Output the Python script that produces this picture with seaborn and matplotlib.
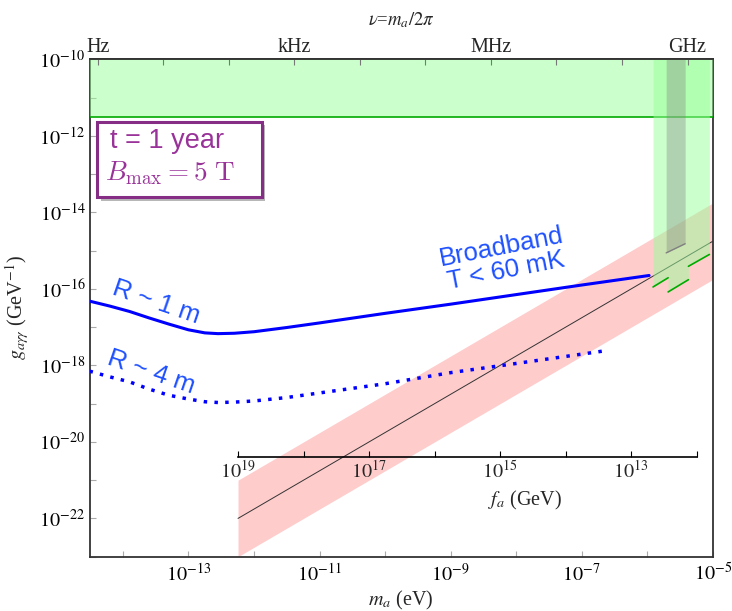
import numpy as np
import pandas as pd
import seaborn as sns
import matplotlib
matplotlib.use("Agg")
import matplotlib.pyplot as plt
import matplotlib.ticker as mticker
import matplotlib.patheffects as pe
from matplotlib.patches import FancyBboxPatch

# values, as log10 of m_a (eV) and g_agg (GeV^-1)
r1_logm = [-14.51, -14.2, -13.9, -13.6, -13.3, -13.0, -12.75, -12.55, -12.3, -12.0,
           -11.5, -11.0, -10.0, -9.0, -8.0, -7.0, -5.97]
r1_logg = [-16.32, -16.45, -16.59, -16.76, -16.92, -17.07, -17.15, -17.17, -17.16, -17.12,
           -17.01, -16.89, -16.64, -16.40, -16.15, -15.90, -15.65]

r4_logm = [-14.51, -14.2, -13.9, -13.6, -13.3, -13.0, -12.75, -12.55, -12.3, -12.0,
           -11.5, -11.0, -10.0, -9.0, -8.0, -6.69]
r4_logg = [-18.15, -18.30, -18.43, -18.62, -18.78, -18.88, -18.95, -18.97, -18.96, -18.93,
           -18.84, -18.72, -18.48, -18.19, -17.95, -17.63]

# QCD axion line and band
qcd_m = [5.7e-13, 1e-5]
qcd_g = [1e-22, 1.75e-15]
qcd_lo = [1e-23, 1.75e-16]
qcd_hi = [1e-21, 1.75e-14]

# upper exclusion (green)
top_excl_g = 3.1e-12

# haloscope exclusion staircase (green) and grey region
halo_logm = [-5.91, -5.68, -5.68, -5.37, -5.37, -5.05]
halo_logg = [-15.95, -15.71, -16.08, -15.76, -15.41, -15.10]
grey_logm = [-5.71, -5.42]
grey_logg = [-15.06, -14.82]

freq_ticks = [1, 1e3, 1e6, 1e9]
freq_labels = ["Hz", "kHz", "MHz", "GHz"]
fa_ticks = [1e19, 1e18, 1e17, 1e16, 1e15, 1e14, 1e13, 1e12]

H_EV = 4.1357e-15      # eV s
FA_CONST = 5.7e6       # f_a [GeV] = FA_CONST / m_a [eV]

BLUE = "#0000ff"
BLUE_TXT = "#1e50ff"
PURPLE = "#993399"
GREEN_LINE = "#00aa00"
GREEN_FILL = (0.6, 1.0, 0.6)

sns.set_theme(style="ticks")
plt.rcParams["font.family"] = ["Liberation Serif", "DejaVu Serif"]
plt.rcParams["mathtext.fontset"] = "stix"
plt.rcParams["axes.edgecolor"] = "#333333"
plt.rcParams["axes.linewidth"] = 1.3

fig = plt.figure(figsize=(7.32, 6.11), dpi=100)
ax = fig.add_axes([0.1223, 0.0889, 0.8513, 0.8140])
ax.set_xscale("log")
ax.set_yscale("log")
ax.set_xlim(10 ** -14.51, 1e-5)
ax.set_ylim(1e-23, 1e-10)

# QCD band
ax.fill_between(qcd_m, qcd_lo, qcd_hi, color="#ffcccc", lw=0, zorder=1)
ax.plot(qcd_m, qcd_g, color="#333333", lw=0.7, zorder=2)

# upper green exclusion
ax.axhspan(top_excl_g, 1e-10, color=GREEN_FILL, alpha=0.5, lw=0, zorder=3)
ax.axhline(top_excl_g, color=GREEN_LINE, lw=1.2, zorder=3)

# haloscope region
hm = np.power(10.0, halo_logm)
hg = np.power(10.0, halo_logg)
ax.fill_between(hm, hg, 1e-10, color=GREEN_FILL, alpha=0.5, lw=0, zorder=3)
for i in (0, 2, 4):
    ax.plot(hm[i:i + 2], hg[i:i + 2], color=GREEN_LINE, lw=1.2, zorder=4)
gm = np.power(10.0, grey_logm)
gg = np.power(10.0, grey_logg)
ax.fill_between(gm, gg, 1e-10, color="0.5", alpha=0.35, lw=0, zorder=4)
ax.plot(gm, gg, color="0.5", lw=1.0, zorder=4)

# broadband sensitivity curves
r1 = pd.DataFrame({"m": np.power(10.0, r1_logm), "g": np.power(10.0, r1_logg)})
r4 = pd.DataFrame({"m": np.power(10.0, r4_logm), "g": np.power(10.0, r4_logg)})
sns.lineplot(data=r1, x="m", y="g", ax=ax, color=BLUE, lw=2.2, zorder=5)
sns.lineplot(data=r4, x="m", y="g", ax=ax, color=BLUE, lw=2.5,
             linestyle=(0, (1, 2.1)), zorder=5)

# labels on the curves
lab_kw = dict(color=BLUE_TXT, fontsize=18.5, family=["Liberation Sans", "DejaVu Sans"],
              ha="center", va="center", rotation_mode="anchor", transform=ax.transAxes)
ax.text(0.107, 0.512, "R ~ 1 m", rotation=-19, **lab_kw)
ax.text(0.099, 0.370, "R ~ 4 m", rotation=-19, **lab_kw)
ax.text(0.665, 0.598, "Broadband\nT < 60 mK", rotation=11, linespacing=1.0, **lab_kw)

# info box
box = FancyBboxPatch((0.0125, 0.7226), 0.2638, 0.1519, boxstyle="square,pad=0",
                     transform=ax.transAxes, fc="white", ec="#862d86", lw=2.2, zorder=6)
box.set_path_effects([pe.SimplePatchShadow(offset=(2.5, -2.5), alpha=0.4), pe.Normal()])
ax.add_patch(box)
ax.text(0.033, 0.836, "t = 1 year", color=PURPLE, fontsize=19.5,
        family=["Liberation Sans", "DejaVu Sans"], ha="left", va="center",
        transform=ax.transAxes, zorder=7)
ax.text(0.025, 0.771, r"$B_{\max} = 5\ \mathrm{T}$", color=PURPLE, fontsize=19.5,
        math_fontfamily="cm", ha="left", va="center", transform=ax.transAxes, zorder=7)


def even_exp(val, pos):
    e = int(round(np.log10(val)))
    return r"$10^{%d}$" % e if e % 2 == 0 else ""


def odd_exp(val, pos):
    e = int(round(np.log10(val)))
    return r"$10^{%d}$" % e if e % 2 != 0 else ""


ax.xaxis.set_major_locator(mticker.LogLocator(base=10, numticks=30))
ax.xaxis.set_major_formatter(mticker.FuncFormatter(odd_exp))
ax.yaxis.set_major_locator(mticker.LogLocator(base=10, numticks=30))
ax.yaxis.set_major_formatter(mticker.FuncFormatter(even_exp))
ax.xaxis.set_minor_locator(mticker.NullLocator())
ax.yaxis.set_minor_locator(mticker.NullLocator())
ax.tick_params(which="major", direction="in", length=4, width=0.8, color="#aaaaaa",
               labelsize=14.5, labelcolor="black")
ax.tick_params(axis="x", pad=5)
ax.tick_params(axis="y", pad=3)
ax.set_xlabel(r"$m_a$ (eV)", fontsize=14.5, labelpad=2)
ax.set_ylabel(r"$g_{a\gamma\gamma}$ (GeV$^{-1}$)", fontsize=14.5, labelpad=6)

# frequency axis on top
sec = ax.secondary_xaxis("top", functions=(lambda m: np.asarray(m) / H_EV,
                                           lambda nu: np.asarray(nu) * H_EV))
sec.set_zorder(10)
sec.xaxis.set_major_locator(mticker.FixedLocator(freq_ticks))
sec.xaxis.set_major_formatter(mticker.FixedFormatter(freq_labels))
sec.xaxis.set_minor_locator(mticker.FixedLocator([10.0 ** k for k in range(1, 10)]))
sec.xaxis.set_minor_formatter(mticker.NullFormatter())
sec.tick_params(which="both", direction="in", length=4, width=0.8, color="#777777",
                labelsize=14.5, pad=2)
sec.set_xlabel(r"$\nu$=$m_a/2\pi$", fontsize=13.5, labelpad=9)

# f_a axis inside the plot
with np.errstate(divide="ignore"):
    fa = ax.secondary_xaxis(0.201, functions=(lambda m: FA_CONST / np.asarray(m),
                                              lambda f: FA_CONST / np.asarray(f)))
fa.set_zorder(10)
fa.xaxis.set_major_locator(mticker.FixedLocator(fa_ticks))
fa.xaxis.set_major_formatter(mticker.FuncFormatter(odd_exp))
fa.xaxis.set_minor_locator(mticker.NullLocator())
fa.xaxis.set_minor_formatter(mticker.NullFormatter())
fa.tick_params(which="major", direction="in", length=4, width=0.8, color="black",
               labelsize=14.5, pad=3)
fa.spines["bottom"].set_bounds(1e12, 1e19)
fa.spines["bottom"].set_color("black")
fa.spines["bottom"].set_linewidth(1.2)
fa.set_xlabel(r"$f_a$ (GeV)", fontsize=14.5, labelpad=4, x=0.699)

plt.savefig("out.png", dpi=100)
plt.close()
